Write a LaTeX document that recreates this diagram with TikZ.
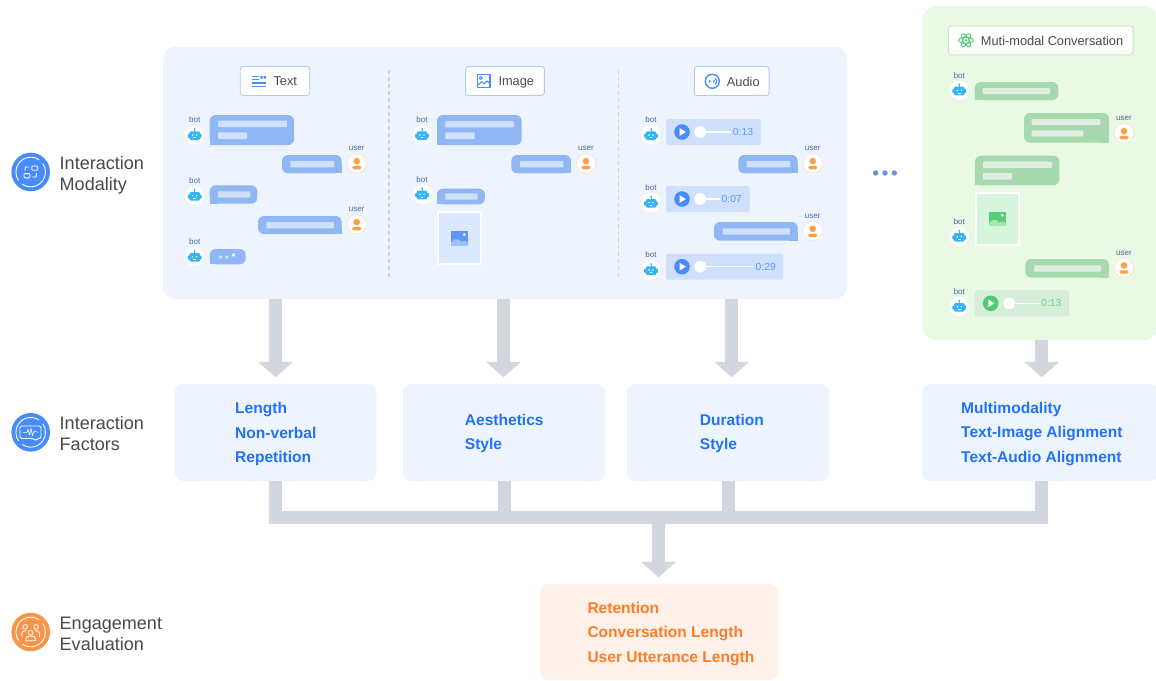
\documentclass[tikz,border=0pt]{standalone}
\usepackage{fontspec}
\setmainfont{Liberation Sans}
\usepackage{tikz}
\usetikzlibrary{arrows.meta,positioning,calc}

\definecolor{panelblue}{HTML}{EEF4FE}
\definecolor{panelgreen}{HTML}{E9F9E4}
\definecolor{panelorange}{HTML}{FEF1E9}
\definecolor{flowgray}{HTML}{D2D7DF}
\definecolor{dashblue}{HTML}{C5D6F2}
\definecolor{bubbleblue}{HTML}{90B6F3}
\definecolor{barblue}{HTML}{CFE0F9}
\definecolor{bubblegreen}{HTML}{A7D9AE}
\definecolor{bargreen}{HTML}{DFEEE0}
\definecolor{tagblue}{HTML}{AECBFA}
\definecolor{taggreen}{HTML}{C5E6C2}
\definecolor{inkgray}{HTML}{4A4A4A}
\definecolor{factorblue}{HTML}{2172F5}
\definecolor{factororange}{HTML}{FA7D28}
\definecolor{iconblue}{HTML}{4A8CF7}
\definecolor{iconorange}{HTML}{FA9449}
\definecolor{nameblue}{HTML}{4A6A9C}
\definecolor{botblue}{HTML}{35B5F5}
\definecolor{userorange}{HTML}{FF9F45}
\definecolor{userring}{HTML}{FBE0CC}
\definecolor{clipblue}{HTML}{CFE0FC}
\definecolor{playblue}{HTML}{4A8CF7}
\definecolor{timeblue}{HTML}{5F9BF5}
\definecolor{clipgreen}{HTML}{D5EDD9}
\definecolor{playgreen}{HTML}{4ECB71}
\definecolor{timegreen}{HTML}{6BD48A}
\definecolor{cardblue}{HTML}{DCE8FD}
\definecolor{cardgreen}{HTML}{D6F5DC}
\definecolor{photoblue}{HTML}{5C97F5}
\definecolor{hillblue}{HTML}{9CC0FA}
\definecolor{photogreen}{HTML}{5CCB7C}
\definecolor{hillgreen}{HTML}{A0E8B0}
\definecolor{dotsblue}{HTML}{6C93D6}

\tikzset{
    panelbox/.style={rounded corners=12pt, inner sep=0pt, minimum width=#1},
    tagbox/.style={draw, fill=white, line width=0.9pt, rounded corners=3pt, inner sep=0pt, minimum height=29pt},
    taglabel/.style={anchor=west, inner sep=0pt, text=inkgray, font=\fontsize{12.8}{15}\selectfont},
    sidelabel/.style={anchor=west, inner sep=0pt, align=left, text=inkgray, font=\fontsize{18.05}{21}\selectfont},
    factorbox/.style={fill=panelblue, rounded corners=9pt, inner sep=0pt, minimum height=97.3pt},
    factorlist/.style={anchor=west, inner sep=0pt, align=left, font=\fontsize{15.55}{24.6}\selectfont\bfseries},
    flowarrow/.style={draw=flowgray, line width=13pt, -{Triangle[width=34pt,length=15.5pt,fill=flowgray]}},
    flowline/.style={draw=flowgray, line width=13pt},
    divider/.style={dashblue, line width=1.6pt, dash pattern=on 4pt off 3pt},
    msgbar/.style={rounded corners=0.8pt, fill=#1},
    glyph/.style={line width=0.9pt, line cap=round, line join=round},
}

% bot: name, x, y
\newcommand{\botavatar}[3]{
    \begin{scope}[shift={(#2,#3)}]
        \fill[white] (0,0) circle (9.6pt);
        \fill[botblue, rounded corners=2pt] (-5.4,-3.7) rectangle (5.4,5);
        \fill[botblue, rounded corners=0.7pt] (-6.9,-1.2) rectangle (6.9,2.8);
        \fill[botblue] (-0.5,-6) rectangle (0.5,-3);
        \fill[botblue] (0,-6) circle (1pt);
        \fill[white] (-2,0) circle (0.8pt) (2,0) circle (0.8pt);
        \draw[white, line width=0.5pt] (-1.4,2.6) -- (1.4,2.6);
        \node[text=nameblue, inner sep=0pt, font=\fontsize{8}{9}\selectfont] (#1) at (0,-15) {bot};
    \end{scope}
}
% user: name, x, y
\newcommand{\useravatar}[3]{
    \begin{scope}[shift={(#2,#3)}]
        \draw[userring, fill=white, line width=0.6pt] (0,0) circle (9.7pt);
        \fill[userorange] (0,-2.2) circle (3.3pt);
        \fill[userorange, rounded corners=1.5pt] (-4.6,2.6) rectangle (4.6,6);
        \node[text=nameblue, inner sep=0pt, font=\fontsize{8}{9}\selectfont] (#1) at (0,-14.5) {user};
    \end{scope}
}
% bubbles with one square corner: x1, y1, x2, y2, colour
\newcommand{\botbubble}[5]{
    \fill[#5, rounded corners=6pt] (#1,#2) rectangle (#3,#4);
    \fill[#5] (#1,#4) rectangle ++(8,-8);
}
\newcommand{\userbubble}[5]{
    \fill[#5, rounded corners=6pt] (#1,#2) rectangle (#3,#4);
    \fill[#5] (#3,#4) rectangle ++(-8,-8);
}
% audio: name, tint, x, y, right edge, line end, time x, time
\newcommand{\audioclip}[8]{
    \fill[clip#2, rounded corners=2pt] (#3,#4) rectangle (#5,#4+26);
    \begin{scope}[shift={(#3,#4)}]
        \fill[play#2] (16,13) circle (7.8pt);
        \fill[white] (13.7,9.2) -- (13.7,16.8) -- (19.8,13) -- cycle;
        \draw[white, line width=1.2pt] (34,13) -- (#6-#3,13);
        \fill[white] (34.3,13) circle (5.9pt);
    \end{scope}
    \node[text=time#2, inner sep=0pt, font=\fontsize{10.3}{12}\selectfont] (#1) at (#7,#4+13) {#8};
}
% picture glyph: x, y, main colour, hill colour
\newcommand{\photoglyph}[4]{
    \begin{scope}[shift={(#1,#2)}]
        \fill[#3] (0,0) rectangle (17.3,13.7);
        \begin{scope}
            \clip (0,0) rectangle (17.3,13.7);
            \fill[#4] (5.5,13.7) circle (5.8pt);
            \fill[#4] (13.5,13.7) circle (4.2pt);
        \end{scope}
        \fill[white] (13.3,3.3) circle (1.5pt);
    \end{scope}
}
% round badge: x, y, colour
\newcommand{\sidebadge}[3]{
    \fill[#3] (#1,#2) circle (19.3pt);
    \draw[white, line width=0.9pt] (#1,#2) ++(55:14.8pt) arc[start angle=55, end angle=215, radius=14.8pt];
    \draw[white, line width=0.9pt] (#1,#2) ++(235:14.8pt) arc[start angle=235, end angle=395, radius=14.8pt];
}

\begin{document}
\begin{tikzpicture}[x=1pt, y=-1pt]
    \clip (0,0) rectangle (1156,680);
    \fill[white] (0,0) rectangle (1156,680);

    % Panels
    \node[panelbox=684pt, fill=panelblue, minimum height=252pt] (modalpanel) at (505,173) {};
    \node[panelbox=236pt, fill=panelgreen, minimum height=334pt, rounded corners=14pt] (multipanel) at (1040.3,173) {};
    \draw[divider] (389,70) -- (389,278);
    \draw[divider] (618.3,70) -- (618.3,278);

    % Tags
    \node[tagbox, draw=tagblue, minimum width=69.5pt] (texttag) at (275,81) {};
    \node[taglabel] (texttaglabel) at (273.3,81.5) {Text};
    \node[tagbox, draw=tagblue, minimum width=78.8pt] (imagetag) at (505,81) {};
    \node[taglabel] (imagetaglabel) at (498.3,82.5) {Image};
    \node[tagbox, draw=tagblue, minimum width=74.8pt] (audiotag) at (731.7,81) {};
    \node[taglabel] (audiotaglabel) at (726.7,81.5) {Audio};
    \node[tagbox, draw=taggreen, minimum width=184.8pt] (multitag) at (1040.7,40.3) {};
    \node[taglabel] (multitaglabel) at (980.7,41) {Muti-modal Conversation};

    % Tag glyphs
    \draw[iconblue, line width=1.1pt] (252,76.5) -- (258.5,76.5) (252,79.6) -- (258.5,79.6) (252,83) -- (266,83) (252,86.3) -- (266,86.3);
    \fill[iconblue] (260.3,76) rectangle (262.6,78.6) (263.6,76) rectangle (265.9,78.6);
    \draw[iconblue, glyph, line width=1.2pt] (477.3,74.8) rectangle (490,87.4);
    \draw[iconblue, glyph, line width=1.1pt] (477.3,85.6) -- (481.6,81.6) -- (484.2,84) -- (487,81) -- (490,83.5);
    \draw[iconblue, line width=0.9pt] (480.8,78) circle (1.5pt);
    \draw[iconblue, line width=1.4pt] (712.3,81.3) circle (7pt);
    \fill[iconblue] (709.6,81.3) circle (1.2pt);
    \draw[iconblue, line width=1.1pt] (712.3,81.3) ++(-50:2pt) arc[start angle=-50, end angle=50, radius=2pt];
    \draw[iconblue, line width=1.1pt] (712.3,81.3) ++(-50:4.2pt) arc[start angle=-50, end angle=50, radius=4.2pt];
    \draw[playgreen, line width=0.9pt, rotate around={0:(966,40.3)}] (966,40.3) ellipse (7.3pt and 3pt);
    \draw[playgreen, line width=0.9pt, rotate around={60:(966,40.3)}] (966,40.3) ellipse (7.3pt and 3pt);
    \draw[playgreen, line width=0.9pt, rotate around={-60:(966,40.3)}] (966,40.3) ellipse (7.3pt and 3pt);
    \fill[playgreen] (966,40.3) circle (1.3pt);

    % Text column
    \botavatar{textbota}{194.7}{135}
    \botbubble{209.7}{115}{294}{145}{bubbleblue}
    \fill[msgbar=barblue] (218,120.7) rectangle (287,127);
    \fill[msgbar=barblue] (218,132.3) rectangle (247,139);
    \useravatar{textusera}{356.7}{163.3}
    \userbubble{282}{155}{341.7}{173.3}{bubbleblue}
    \fill[msgbar=barblue] (290.3,161) rectangle (334,167.3);
    \botavatar{textbotb}{194.7}{195.7}
    \botbubble{209.7}{185.3}{257.3}{203.7}{bubbleblue}
    \fill[msgbar=barblue] (218,191.3) rectangle (250.3,197.6);
    \useravatar{textuserb}{356.7}{224.3}
    \userbubble{258}{216}{341.7}{234}{bubbleblue}
    \fill[msgbar=barblue] (266.3,222) rectangle (334,228.3);
    \botavatar{textbotc}{194.7}{256.7}
    \botbubble{209.7}{249}{245.7}{264.3}{bubbleblue}
    \fill[barblue] (220.7,257) circle (1.8pt) (226.8,257) circle (1.8pt);
    \fill[white] (233.6,255) circle (1.8pt);

    % Image column
    \botavatar{imagebota}{422}{135}
    \botbubble{437}{115}{521.7}{145}{bubbleblue}
    \fill[msgbar=barblue] (445.3,121) rectangle (514,127.3);
    \fill[msgbar=barblue] (445.3,132.3) rectangle (474.7,139);
    \useravatar{imageusera}{586}{163.3}
    \userbubble{511.3}{155}{571}{173.3}{bubbleblue}
    \fill[msgbar=barblue] (520,161) rectangle (563.3,167.3);
    \botavatar{imagebotb}{422}{194.3}
    \botbubble{437}{188.7}{485}{204.3}{bubbleblue}
    \fill[msgbar=barblue] (445.3,193.3) rectangle (477.7,199.7);
    \draw[white, fill=cardblue, line width=2pt] (438,212) rectangle (481,264.3);
    \photoglyph{451}{231.3}{photoblue}{hillblue}

    % Audio column
    \botavatar{audiobota}{651}{135}
    \audioclip{audiotimea}{blue}{666}{119}{760.7}{730.7}{743}{0:13}
    \useravatar{audiousera}{812.7}{163.3}
    \userbubble{738.3}{155}{797.7}{173.3}{bubbleblue}
    \fill[msgbar=barblue] (746.7,161) rectangle (790,167.3);
    \botavatar{audiobotb}{651}{202.7}
    \audioclip{audiotimeb}{blue}{666}{186}{749.7}{720}{731.7}{0:07}
    \useravatar{audiouserb}{812.7}{231}
    \userbubble{714}{222}{797.7}{240.7}{bubbleblue}
    \fill[msgbar=barblue] (722.7,228.3) rectangle (790,234.7);
    \botavatar{audiobotc}{651}{270}
    \audioclip{audiotimec}{blue}{666}{253.7}{783.3}{752.7}{765.7}{0:29}

    % Dots between the panels
    \fill[dotsblue] (875.7,173) circle (2.7pt) (885,173) circle (2.7pt) (894.3,173) circle (2.7pt);

    % Green column
    \botavatar{multibota}{959.3}{90.3}
    \botbubble{974.7}{82}{1058.3}{100}{bubblegreen}
    \fill[msgbar=bargreen] (982.7,88) rectangle (1050,94);
    \useravatar{multiusera}{1124}{133.3}
    \userbubble{1024}{113}{1109}{142.7}{bubblegreen}
    \fill[msgbar=bargreen] (1031.7,119) rectangle (1100.3,125);
    \fill[msgbar=bargreen] (1031.7,130.3) rectangle (1083.3,136.7);
    \botbubble{975}{155.7}{1059.3}{185.3}{bubblegreen}
    \fill[msgbar=bargreen] (983,161.7) rectangle (1052,168);
    \fill[msgbar=bargreen] (983,173) rectangle (1012,179.7);
    \draw[white, fill=cardgreen, line width=2pt] (976,192.7) rectangle (1019,245);
    \photoglyph{989}{212}{photogreen}{hillgreen}
    \botavatar{multibotb}{959.3}{236.7}
    \useravatar{multiuserb}{1124}{267.7}
    \userbubble{1025.3}{259}{1109}{277.7}{bubblegreen}
    \fill[msgbar=bargreen] (1034,265.3) rectangle (1101,271.7);
    \botavatar{multibotc}{959.3}{306.7}
    \audioclip{multitime}{green}{974.7}{290.3}{1069}{1040}{1051.3}{0:13}

    % Factor boxes
    \node[factorbox, minimum width=202pt] (lengthbox) at (275.7,432.4) {};
    \node[factorbox, minimum width=202pt] (aestheticsbox) at (504,432.4) {};
    \node[factorbox, minimum width=202pt] (durationbox) at (728,432.4) {};
    \node[factorbox, minimum width=236pt] (multibox) at (1040.3,432.4) {};
    \node[factorbox, fill=panelorange, minimum width=238.3pt, minimum height=96pt] (evalbox) at (659.2,632) {};

    % Factor lists
    \node[factorlist, text=factorblue] (lengthlist) at (235,434) {Length\\Non-verbal\\Repetition};
    \node[factorlist, text=factorblue] (aestheticslist) at (464.7,433.5) {Aesthetics\\Style};
    \node[factorlist, text=factorblue] (durationlist) at (699.7,433.5) {Duration\\Style};
    \node[factorlist, text=factorblue] (multilist) at (961,434) {Multimodality\\Text-Image Alignment\\Text-Audio Alignment};
    \node[factorlist, text=factororange] (evallist) at (587.3,634) {Retention\\Conversation Length\\User Utterance Length};

    % Connectors
    \coordinate (texttip) at (275.5,377.3);
    \coordinate (imagetip) at (503.5,377.3);
    \coordinate (audiotip) at (731.7,377.3);
    \coordinate (multitip) at (1041.7,377.3);
    \coordinate (busend) at (1041.7,517.3);
    \coordinate (evaltip) at (658.5,577.3);
    \draw[flowarrow] (modalpanel.south -| texttip) -- (texttip);
    \draw[flowarrow] (modalpanel.south -| imagetip) -- (imagetip);
    \draw[flowarrow] (modalpanel.south -| audiotip) -- (audiotip);
    \draw[flowarrow] (multipanel.south -| multitip) -- (multitip);
    \draw[flowline] (lengthbox.south) |- (busend) -- (multibox.south -| busend);
    \draw[flowline] (aestheticsbox.south) -- (aestheticsbox.south |- busend);
    \draw[flowline] (durationbox.south) -- (durationbox.south |- busend);
    \draw[flowarrow] (evaltip |- busend) -- (evaltip);

    % Side labels
    \sidebadge{30.7}{172}{iconblue}
    \draw[white, glyph, rounded corners=1pt] (31.7,166) rectangle (37.7,170.2);
    \draw[white, glyph, rounded corners=1pt] (24,173.6) rectangle (30,177.8);
    \draw[white, glyph] (29,167) -- (25.5,167) -- (25,170.5);
    \draw[white, glyph] (32.5,177) -- (36,177) -- (36.6,173.5);
    \node[sidelabel] (modalitylabel) at (59.5,175.5) {Interaction\\Modality};

    \sidebadge{30.7}{432.3}{iconblue}
    \draw[white, glyph, rounded corners=1.5pt] (20,426) -- (41,426) -- (41,438.5) -- (37,438.5) -- (36,441) -- (33.5,438.5) -- (20,438.5) -- cycle;
    \draw[white, line width=0.6pt, line join=round] (23,432.3) -- (27,432.3) -- (28,429.5) -- (29.5,435) -- (31,428.5) -- (32.5,435.5) -- (34,431) -- (38,432.3);
    \node[sidelabel] (factorslabel) at (59.5,433.5) {Interaction\\Factors};

    \sidebadge{30.7}{632}{iconorange}
    \draw[white, line width=0.8pt] (25.3,626.8) circle (2.3pt) (36.1,626.8) circle (2.3pt) (30.7,632.7) circle (2.4pt);
    \draw[white, glyph] (22,636.5) .. controls (21,632) and (23,630.5) .. (26.5,630.7);
    \draw[white, glyph] (39.4,636.5) .. controls (40.4,632) and (38.4,630.5) .. (34.9,630.7);
    \draw[white, glyph] (25.7,640.7) -- (25.7,639.5) .. controls (25.7,636.6) and (27.8,636) .. (30.7,636) .. controls (33.6,636) and (35.7,636.6) .. (35.7,639.5) -- (35.7,640.7) -- cycle;
    \node[sidelabel] (evaluationlabel) at (59.5,633.5) {Engagement\\Evaluation};
\end{tikzpicture}
\end{document}
